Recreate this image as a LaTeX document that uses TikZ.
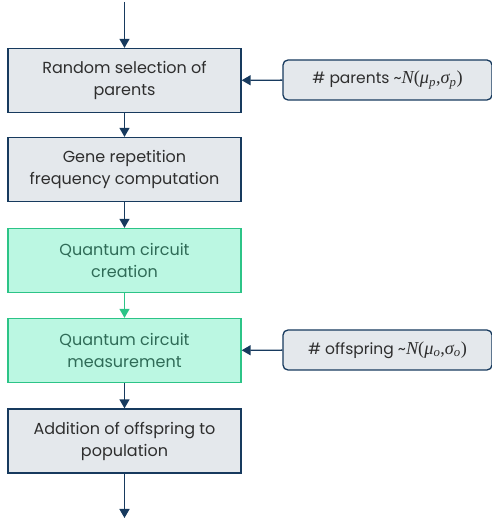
\documentclass[tikz,border=0pt]{standalone}
\usepackage{fontspec}
\setmainfont{Poppins}
\newfontfamily\formulafont[Scale=1.18]{Liberation Serif}
\usetikzlibrary{arrows.meta}
\definecolor{navy}{HTML}{173A5E}
\definecolor{greyfill}{HTML}{E4E8EC}
\definecolor{mintfill}{HTML}{BBF7E2}
\definecolor{mintline}{HTML}{2CC487}
\definecolor{minttext}{HTML}{2F6B57}
\definecolor{greytext}{HTML}{2E2E2E}
% italic letter and its lowered index, in a serif face
\newcommand{\fvar}[2]{{\formulafont\itshape #1\textsubscript{#2}}}
\newcommand{\normdist}[1]{{\formulafont\itshape N\upshape(\fvar{μ}{#1},\fvar{σ}{#1}\upshape)}}
\tikzset{
  x=1pt, y=1pt,
  stepbox/.style={draw=navy, line width=1.3pt, fill=greyfill, minimum width=233pt,
    minimum height=64pt, align=center, text=greytext, font=\fontsize{16}{22}\selectfont},
  qbox/.style={stepbox, draw=mintline, fill=mintfill, text=minttext},
  parambox/.style={draw=navy, line width=1.3pt, fill=greyfill, rounded corners=5pt,
    minimum width=209pt, minimum height=40pt, text=greytext, font=\fontsize{15.5}{18}\selectfont},
  flow/.style={draw=navy, line width=1.4pt, -{Triangle[length=9pt,width=10pt]}},
  qflow/.style={flow, draw=mintline, -{Triangle[length=9pt,width=10pt,fill=mintline]}}
}
\begin{document}
\begin{tikzpicture}
\useasboundingbox (0,0) rectangle (492,520);
% main chain of steps (y measured from the bottom)
\node[stepbox] (sel) at (124.5,439.5) {Random selection of\\parents};
\node[stepbox] (freq) at (124.5,350.5) {Gene repetition\\frequency computation};
\node[qbox] (create) at (124.5,259.5) {Quantum circuit\\creation};
\node[qbox] (meas) at (124.5,169.5) {Quantum circuit\\measurement};
\node[stepbox] (add) at (124.5,79) {Addition of offspring to\\population};
% distribution parameters
\node[parambox] (npar) at (387.5,440) {\# parents \textasciitilde\normdist{p}};
\node[parambox] (noff) at (387.5,170) {\# offspring \textasciitilde\normdist{o}};
\coordinate (in) at (124.5,518);
\coordinate (out) at (124.5,2);
\draw[flow] (in) -- (sel);
\draw[flow] (sel) -- (freq);
\draw[flow] (freq) -- (create);
\draw[qflow] (create) -- (meas);
\draw[flow] (meas) -- (add);
\draw[flow] (add) -- (out);
\draw[flow] (npar) -- (sel);
\draw[flow] (noff) -- (meas);
\end{tikzpicture}
\end{document}
